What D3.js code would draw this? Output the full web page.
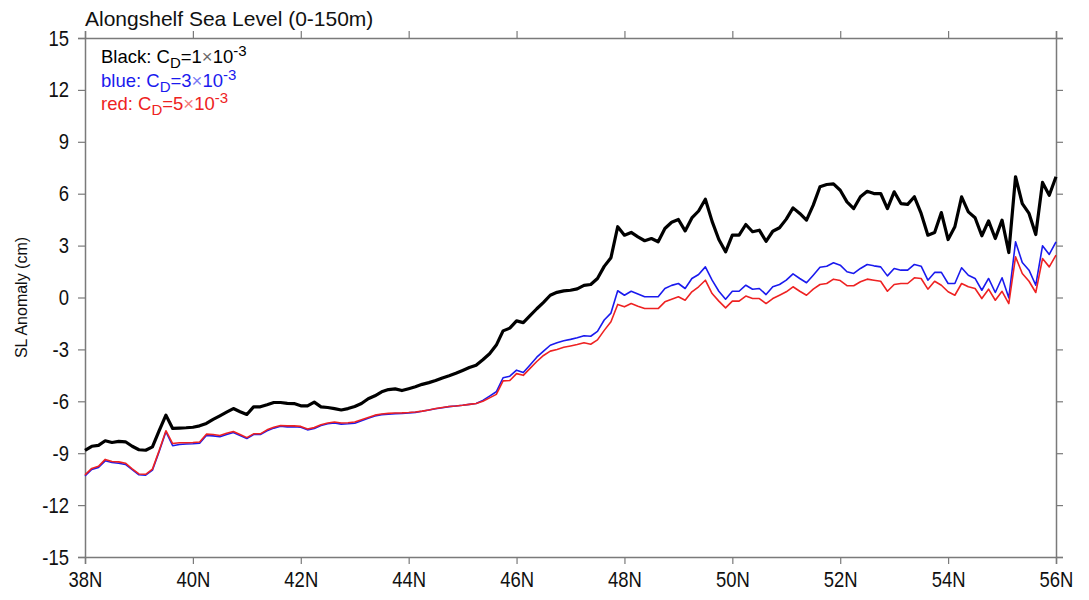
<!DOCTYPE html>
<html>
<head>
<meta charset="utf-8">
<script src="https://cdn.jsdelivr.net/npm/d3@7"></script>
<style>
  body { margin: 0; background: #fff; }
  svg { font-family: "Liberation Sans", Arial, Helvetica, sans-serif; }
</style>
</head>
<body>
<div id="chart"></div>
<script>
// latitude grid, 1/8 degree from 38N to 56N
const lats = d3.range(0, 145).map(i => 38 + i * 0.125);

// sea level anomaly (cm), Cd = 1e-3
const slBlack = [
  -8.83, -8.6, -8.55, -8.28, -8.38, -8.32, -8.34, -8.6, -8.8, -8.83,
  -8.63, -7.7, -6.8, -7.57, -7.55, -7.53, -7.5, -7.42, -7.28, -7.05,
  -6.84, -6.63, -6.42, -6.6, -6.76, -6.32, -6.32, -6.2, -6.07, -6.07,
  -6.12, -6.13, -6.26, -6.26, -6.05, -6.32, -6.36, -6.42, -6.5, -6.42,
  -6.3, -6.13, -5.85, -5.68, -5.45, -5.32, -5.28, -5.38, -5.27, -5.16,
  -5.02, -4.92, -4.8, -4.65, -4.52, -4.38, -4.22, -4.05, -3.92, -3.6,
  -3.25, -2.75, -1.93, -1.77, -1.35, -1.45, -1.05, -0.65, -0.28, 0.13,
  0.3, 0.38, 0.42, 0.5, 0.7, 0.75, 1.1, 1.8, 2.3, 4.09,
  3.6, 3.76, 3.5, 3.28, 3.41, 3.22, 3.99, 4.35, 4.51, 3.85,
  4.6, 5.0, 5.68, 4.4, 3.35, 2.64, 3.6, 3.6, 4.22, 3.8,
  3.89, 3.25, 3.83, 4.03, 4.53, 5.18, 4.86, 4.47, 5.34, 6.4,
  6.53, 6.57, 6.2, 5.53, 5.14, 5.82, 6.14, 6.01, 6.01, 5.14,
  6.11, 5.43, 5.38, 5.82, 4.86, 3.6, 3.76, 4.91, 3.35, 4.09,
  5.82, 4.95, 4.61, 3.57, 4.43, 3.41, 4.47, 2.6, 6.98, 5.43,
  4.86, 3.64, 6.65, 5.91, 6.98
];

// Cd = 3e-3
const slBlue = [
  -10.31, -9.94, -9.82, -9.44, -9.54, -9.58, -9.65, -9.95, -10.25, -10.27,
  -9.98, -8.9, -7.76, -8.57, -8.5, -8.47, -8.45, -8.42, -7.98, -8.0,
  -8.05, -7.92, -7.8, -7.98, -8.15, -7.92, -7.92, -7.7, -7.55, -7.44,
  -7.48, -7.47, -7.5, -7.65, -7.57, -7.4, -7.3, -7.25, -7.32, -7.3,
  -7.27, -7.12, -6.98, -6.85, -6.77, -6.74, -6.71, -6.7, -6.67, -6.64,
  -6.58, -6.5, -6.43, -6.37, -6.31, -6.27, -6.23, -6.18, -6.13, -5.95,
  -5.7, -5.45, -4.64, -4.55, -4.2, -4.34, -3.9, -3.45, -3.1, -2.76,
  -2.62, -2.5, -2.42, -2.33, -2.21, -2.24, -1.96, -1.3, -0.9, 0.39,
  0.13, 0.36, 0.2, 0.04, 0.04, 0.04, 0.52, 0.7, 0.81, 0.52,
  1.1, 1.33, 1.77, 1.0, 0.36, -0.1, 0.36, 0.36, 0.71, 0.48,
  0.52, 0.17, 0.62, 0.75, 1.0, 1.37, 1.1, 0.85, 1.29, 1.75,
  1.81, 2.01, 1.87, 1.49, 1.39, 1.68, 1.91, 1.83, 1.77, 1.25,
  1.68, 1.58, 1.58, 1.91, 1.81, 1.0, 1.45, 1.45, 0.81, 0.81,
  1.72, 1.29, 1.1, 0.42, 1.1, 0.29, 1.14, -0.02, 3.22, 2.02,
  1.58, 0.71, 2.99, 2.49, 3.22
];

// Cd = 5e-3
const slRed = [
  -10.25, -9.88, -9.76, -9.36, -9.48, -9.5, -9.58, -9.9, -10.2, -10.22,
  -9.92, -8.85, -7.7, -8.44, -8.4, -8.4, -8.38, -8.35, -7.9, -7.92,
  -7.98, -7.85, -7.75, -7.92, -8.1, -7.88, -7.88, -7.65, -7.5, -7.4,
  -7.42, -7.42, -7.45, -7.6, -7.52, -7.35, -7.25, -7.2, -7.25, -7.24,
  -7.2, -7.06, -6.93, -6.8, -6.73, -6.7, -6.68, -6.67, -6.65, -6.62,
  -6.57, -6.5, -6.42, -6.36, -6.3, -6.27, -6.23, -6.18, -6.13, -6.0,
  -5.8, -5.6, -4.82, -4.8, -4.4, -4.5, -4.1, -3.7, -3.35, -3.1,
  -3.0, -2.88, -2.8, -2.72, -2.62, -2.7, -2.45, -1.9, -1.4, -0.4,
  -0.54, -0.35, -0.5, -0.64, -0.64, -0.64, -0.25, -0.1, 0.04, -0.16,
  0.33, 0.62, 1.0, 0.23, -0.21, -0.6, -0.21, -0.21, 0.08, -0.06,
  -0.06, -0.35, -0.06, 0.13, 0.33, 0.62, 0.36, 0.13, 0.48, 0.75,
  0.81, 1.06, 0.98, 0.68, 0.68, 0.91, 1.06, 1.0, 0.94, 0.36,
  0.75, 0.81, 0.81, 1.14, 1.1, 0.48, 0.94, 0.71, 0.33, 0.13,
  0.81, 0.62, 0.52, -0.06, 0.48, -0.16, 0.36, -0.35, 2.35, 1.39,
  0.94, 0.29, 2.25, 1.77, 2.45
];

const xTicks = d3.range(38, 57, 2);
const yTicks = d3.range(-15, 16, 3);

const width = 1089;
const height = 600;
const margin = { top: 38, right: 33, bottom: 43, left: 85 };

const svg = d3.select("#chart").append("svg")
    .attr("width", width)
    .attr("height", height);

const x = d3.scaleLinear().domain([38, 56]).range([margin.left, width - margin.right]);
const y = d3.scaleLinear().domain([-15, 15]).range([height - margin.bottom, margin.top]);

const axisColor = "#7a7a7a";
const squeeze = 0.84; // tick labels in the picture are a bit condensed

// axes, ticks outward on all four sides
const xBottom = svg.append("g")
    .attr("transform", `translate(0,${height - margin.bottom})`)
    .call(d3.axisBottom(x).tickValues(xTicks).tickSize(7).tickPadding(6).tickFormat(d => d + "N"));
const xTop = svg.append("g")
    .attr("transform", `translate(0,${margin.top})`)
    .call(d3.axisTop(x).tickValues(xTicks).tickSize(7).tickFormat(""));
const yLeft = svg.append("g")
    .attr("transform", `translate(${margin.left},0)`)
    .call(d3.axisLeft(y).tickValues(yTicks).tickSize(7).tickPadding(9).tickFormat(d => String(d)));
const yRight = svg.append("g")
    .attr("transform", `translate(${width - margin.right},0)`)
    .call(d3.axisRight(y).tickValues(yTicks).tickSize(7).tickFormat(""));

for (const g of [xBottom, xTop, yLeft, yRight]) {
    g.select(".domain").attr("stroke", axisColor).attr("stroke-width", 1.5);
    g.selectAll(".tick line").attr("stroke", axisColor).attr("stroke-width", 1.2);
    g.selectAll(".tick text")
        .attr("fill", "#111")
        .style("font-size", "22px");
}
xBottom.selectAll(".tick text")
    .attr("dy", "0.78em")
    .attr("transform", `scale(${squeeze},1)`);
yLeft.selectAll(".tick text")
    .attr("x", -16 / squeeze)
    .attr("transform", `scale(${squeeze},1)`);

// lines
const line = vals => d3.line()
    .x((d, i) => x(lats[i]))
    .y(d => y(d))(vals);

svg.append("path").attr("d", line(slBlack))
    .attr("fill", "none").attr("stroke", "#000").attr("stroke-width", 3.2)
    .attr("stroke-linejoin", "round");
svg.append("path").attr("d", line(slBlue))
    .attr("fill", "none").attr("stroke", "#1a1aee").attr("stroke-width", 1.6)
    .attr("stroke-linejoin", "round");
svg.append("path").attr("d", line(slRed))
    .attr("fill", "none").attr("stroke", "#ee2222").attr("stroke-width", 1.6)
    .attr("stroke-linejoin", "round");

// title
svg.append("text")
    .attr("x", margin.left)
    .attr("y", 26)
    .style("font-size", "21px")
    .attr("fill", "#111")
    .text("Alongshelf Sea Level (0-150m)");

// y label
svg.append("text")
    .attr("transform", `translate(27,${(margin.top + height - margin.bottom) / 2}) rotate(-90)`)
    .attr("text-anchor", "middle")
    .style("font-size", "16px")
    .attr("fill", "#111")
    .text("SL Anomaly (cm)");

// legend
const legend = [
    { name: "Black: ", cd: "1", color: "#000" },
    { name: "blue: ", cd: "3", color: "#1a1aee" },
    { name: "red: ", cd: "5", color: "#ee2222" }
];
legend.forEach((d, i) => {
    const t = svg.append("text")
        .attr("x", 101)
        .attr("y", 63 + i * 23.5)
        .attr("fill", d.color)
        .style("font-size", "18.5px");
    t.append("tspan").text(d.name + "C");
    t.append("tspan").attr("dy", 5).style("font-size", "15px").text("D");
    t.append("tspan").attr("dy", -5).text("=" + d.cd);
    t.append("tspan").attr("fill-opacity", 0.6).text("\u00d7");
    t.append("tspan").text("10");
    t.append("tspan").attr("dy", -7).style("font-size", "15px").text("-3");
});
</script>
</body>
</html>
